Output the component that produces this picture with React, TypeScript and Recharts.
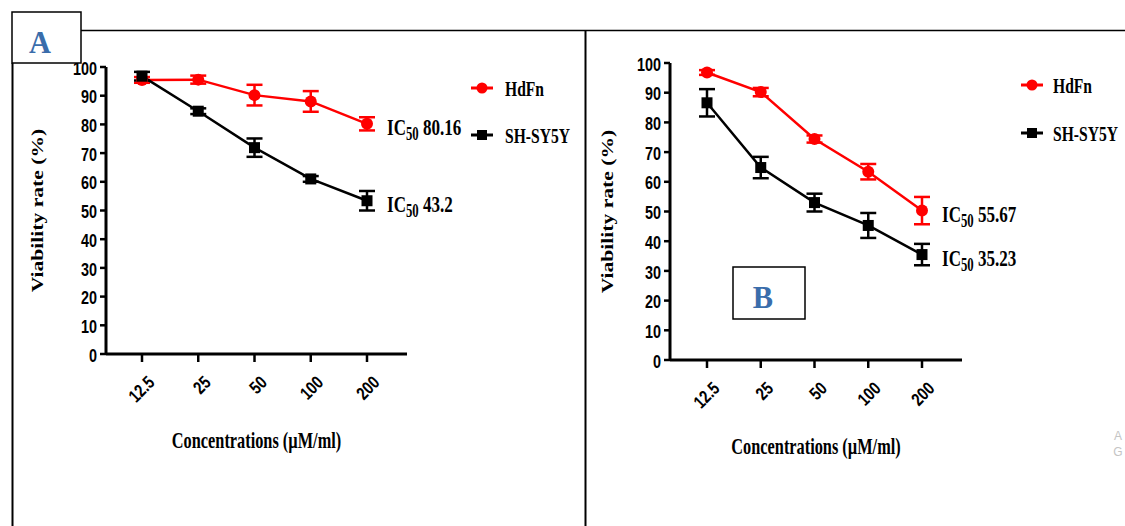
import React from 'react';
import { LineChart, Line, XAxis, YAxis, ErrorBar, LabelList, Legend } from 'recharts';

// ---------- data ----------
const concentrations = ['12.5', '25', '50', '100', '200'];
const yTicks = [0, 10, 20, 30, 40, 50, 60, 70, 80, 90, 100];
const seriesNames = ['HdFn', 'SH-SY5Y'];

const aHdFn = [95.5, 95.6, 90.2, 88.0, 80.2];
const aHdFnErr = [1.0, 1.4, 3.6, 3.6, 2.3];
const aShsy = [96.8, 84.6, 71.9, 61.0, 53.4];
const aShsyErr = [1.5, 1.0, 3.2, 1.0, 3.4];
const aIC50 = ['80.16', '43.2'];

const bHdFn = [96.8, 90.2, 74.4, 63.4, 50.3];
const bHdFnErr = [0.8, 1.4, 1.2, 2.6, 4.6];
const bShsy = [86.6, 64.8, 53.0, 45.3, 35.5];
const bShsyErr = [4.6, 3.6, 3.0, 4.2, 3.6];
const bIC50 = ['55.67', '35.23'];

const xTitle = 'Concentrations (µM/ml)';
const yTitle = 'Viability rate (%)';

const buildRows = (h: number[], he: number[], s: number[], se: number[]) =>
  concentrations.map((c, i) => ({ conc: c, hdfn: h[i], hdfnErr: he[i], shsy: s[i], shsyErr: se[i] }));

const dataA = buildRows(aHdFn, aHdFnErr, aShsy, aShsyErr);
const dataB = buildRows(bHdFn, bHdFnErr, bShsy, bShsyErr);

// ---------- styles ----------
const RED = '#ff0000';
const BLACK = '#000000';
const SERIF = "'Liberation Serif', 'Times New Roman', serif";
const SANS = "'Liberation Sans', Arial, sans-serif";

function SText({ x, y, sx = 1, rot = 0, anchor = 'start', size, family = SERIF, weight = 'bold', fill = '#000', baseline = 'central', children }: any) {
  return (
    <text
      transform={`translate(${x},${y}) rotate(${rot}) scale(${sx},1)`}
      textAnchor={anchor}
      dominantBaseline={baseline}
      fontSize={size}
      fontFamily={family}
      fontWeight={weight}
      fill={fill}
    >
      {children}
    </text>
  );
}

function YTick(props: any) {
  const { x, y, payload } = props;
  return <SText x={x} y={y + 1} anchor="end" size={18} sx={0.8} family={SANS}>{payload.value}</SText>;
}

function XTick(props: any) {
  const { x, y, payload } = props;
  return <SText x={x + 9} y={y + 15} rot={-45} anchor="end" size={18} sx={0.8} family={SANS}>{payload.value}</SText>;
}

function SquareDot(props: any) {
  const { cx, cy, index } = props;
  if (cx == null || cy == null) return <g key={`sq-${index}`} />;
  return <rect key={`sq-${index}`} x={cx - 5.5} y={cy - 5.5} width={11} height={11} fill={BLACK} />;
}

function makeICLabel(value: string, last: number) {
  return (p: any) => {
    if (p.index !== last) return null;
    const x = (p.x ?? p.viewBox?.x) + 20;
    const y = (p.y ?? p.viewBox?.y) + 11;
    return (
      <text transform={`translate(${x},${y}) scale(0.71,1)`} fontFamily={SERIF} fontWeight="bold" fontSize={24} fill="#000">
        IC<tspan fontSize={18} dy={5}>50</tspan>
        <tspan dy={-5}> {value}</tspan>
      </text>
    );
  };
}

function LegendBox({ textX, gap }: any) {
  const y1 = 18;
  const y2 = 18 + gap;
  return (
    <svg width={150} height={100} style={{ overflow: 'visible', display: 'block' }}>
      <line x1={6} y1={y1} x2={28} y2={y1} stroke={RED} strokeWidth={3} />
      <circle cx={17} cy={y1} r={5.5} fill={RED} />
      <SText x={textX} y={y1 + 8} baseline="auto" size={22} sx={0.71}>{seriesNames[0]}</SText>
      <line x1={6} y1={y2} x2={28} y2={y2} stroke={BLACK} strokeWidth={3} />
      <rect x={12} y={y2 - 5} width={10} height={10} fill={BLACK} />
      <SText x={textX} y={y2 + 8} baseline="auto" size={22} sx={0.71}>{seriesNames[1]}</SText>
    </svg>
  );
}

function Panel({ left, width, height, margin, padding, data, ic50, yLabelOffset, legend }: any) {
  const last = data.length - 1;
  return (
    <div style={{ position: 'absolute', left, top: 0, width, height }}>
      <LineChart width={width} height={height} data={data} margin={margin}>
        <XAxis
          dataKey="conc"
          padding={padding}
          interval={0}
          height={60}
          axisLine={{ stroke: BLACK, strokeWidth: 3 }}
          tickLine={{ stroke: BLACK, strokeWidth: 2.5 }}
          tickSize={8}
          tickMargin={2}
          tick={<XTick />}
          label={(p: any) => {
            const vb = p.viewBox || {};
            return (
              <SText x={vb.x + vb.width / 2} y={vb.y + 86} anchor="middle" size={23} sx={0.71}>{xTitle}</SText>
            );
          }}
        />
        <YAxis
          type="number"
          domain={[0, 100]}
          ticks={yTicks}
          interval={0}
          width={60}
          axisLine={{ stroke: BLACK, strokeWidth: 3 }}
          tickLine={{ stroke: BLACK, strokeWidth: 2.5 }}
          tickSize={6}
          tickMargin={3}
          tick={<YTick />}
          label={(p: any) => {
            const vb = p.viewBox || {};
            return (
              <SText x={vb.x + vb.width - yLabelOffset} y={vb.y + vb.height / 2} rot={-90} anchor="middle" size={17} sx={1.27}>{yTitle}</SText>
            );
          }}
        />
        <Legend
          layout="vertical"
          align="center"
          verticalAlign="middle"
          wrapperStyle={{ position: 'absolute', left: legend.left, top: legend.top, width: 150, height: 100 }}
          content={() => <LegendBox textX={legend.textX} gap={legend.gap} />}
        />
        <Line
          dataKey="hdfn"
          name={seriesNames[0]}
          stroke={RED}
          strokeWidth={2.5}
          dot={{ r: 6, fill: RED, stroke: RED, strokeWidth: 0 }}
          activeDot={false}
          isAnimationActive={false}
        >
          <ErrorBar dataKey="hdfnErr" width={8} stroke={RED} strokeWidth={2.5} direction="y" isAnimationActive={false} />
          <LabelList dataKey="hdfn" content={makeICLabel(ic50[0], last)} />
        </Line>
        <Line
          dataKey="shsy"
          name={seriesNames[1]}
          stroke={BLACK}
          strokeWidth={2.5}
          dot={(p: any) => <SquareDot {...p} />}
          activeDot={false}
          isAnimationActive={false}
        >
          <ErrorBar dataKey="shsyErr" width={8} stroke={BLACK} strokeWidth={2.5} direction="y" isAnimationActive={false} />
          <LabelList dataKey="shsy" content={makeICLabel(ic50[1], last)} />
        </Line>
      </LineChart>
    </div>
  );
}

export default function App() {
  return (
    <div style={{ position: 'absolute', left: 0, top: 0, width: 1125, height: 526, background: '#fff', overflow: 'hidden' }}>
      <Panel
        left={0}
        width={585}
        height={526}
        margin={{ top: 67, right: 178, bottom: 112, left: 46 }}
        padding={{ left: 36, right: 40 }}
        data={dataA}
        ic50={aIC50}
        yLabelOffset={69}
        legend={{ left: 465, top: 70, textX: 40, gap: 47 }}
      />
      <Panel
        left={585}
        width={540}
        height={526}
        margin={{ top: 63, right: 163, bottom: 106, left: 25 }}
        padding={{ left: 37, right: 40 }}
        data={dataB}
        ic50={bIC50}
        yLabelOffset={63}
        legend={{ left: 430, top: 67, textX: 38, gap: 48 }}
      />
      <svg width={1125} height={526} style={{ position: 'absolute', left: 0, top: 0, pointerEvents: 'none' }}>
        <line x1={81} y1={30.5} x2={1125} y2={30.5} stroke="#000" strokeWidth={1.5} />
        <line x1={12.5} y1={63} x2={12.5} y2={526} stroke="#000" strokeWidth={2} />
        <line x1={585.5} y1={30} x2={585.5} y2={526} stroke="#000" strokeWidth={2} />
        <rect x={12} y={12} width={69} height={51} fill="#fff" stroke="#000" strokeWidth={1.5} />
        <SText x={40} y={42} anchor="middle" size={32} sx={0.95} fill="#3a6dab">A</SText>
        <rect x={733} y={267} width={72} height={52} fill="#fff" stroke="#000" strokeWidth={1.5} />
        <SText x={763} y={297} anchor="middle" size={32} sx={0.95} fill="#3a6dab">B</SText>
        <SText x={1118} y={436} anchor="middle" size={12} weight="normal" family={SANS} fill="#c4c4c4">A</SText>
        <SText x={1118} y={452} anchor="middle" size={12} weight="normal" family={SANS} fill="#c4c4c4">G</SText>
      </svg>
    </div>
  );
}
